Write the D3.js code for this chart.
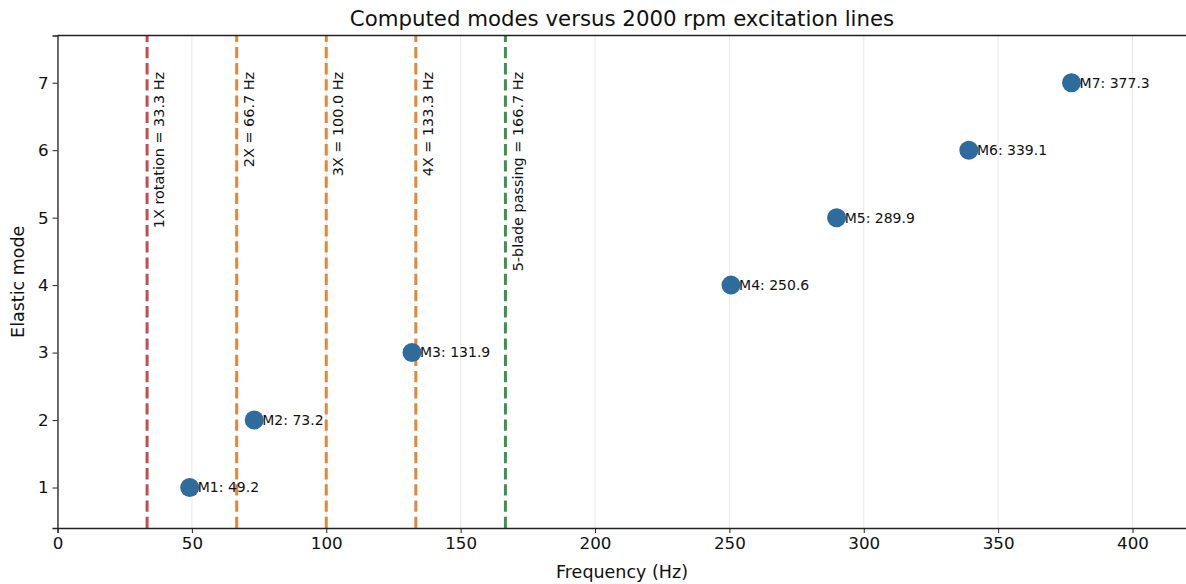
<!DOCTYPE html>
<html>
<head>
    <meta charset="utf-8">
    <title>Computed modes versus 2000 rpm excitation lines</title>
    <script src="https://cdnjs.cloudflare.com/ajax/libs/d3/7.8.5/d3.min.js"></script>
    <style>
        body { margin: 0; background: #fff; }
        svg { display: block; font-family: "DejaVu Sans", sans-serif; }
    </style>
</head>
<body>
    <svg id="chart"></svg>
    <script>
        // modal frequencies (Hz)
        const modeNames = ['M1', 'M2', 'M3', 'M4', 'M5', 'M6', 'M7'];
        const modeNumbers = [1, 2, 3, 4, 5, 6, 7];
        const modeFreqs = [49.2, 73.2, 131.9, 250.6, 289.9, 339.1, 377.3];

        // excitation lines at 2000 rpm
        const lineFreqs = [33.33, 66.67, 100.0, 133.33, 166.67];
        const lineLabels = ['1X rotation = 33.3 Hz', '2X = 66.7 Hz', '3X = 100.0 Hz', '4X = 133.3 Hz', '5-blade passing = 166.7 Hz'];
        const lineKinds = ['rotation', 'harmonic', 'harmonic', 'harmonic', 'blade'];

        const xTicks = [0, 50, 100, 150, 200, 250, 300, 350, 400];
        const yTicks = [1, 2, 3, 4, 5, 6, 7];

        const width = 1186, height = 584;
        const margin = { top: 35.5, right: 0, bottom: 56, left: 57.5 };

        const colors = { rotation: '#c64b4f', harmonic: '#e2873a', blade: '#3d9153' };

        const svg = d3.select('#chart')
            .attr('width', width)
            .attr('height', height);

        const x = d3.scaleLinear()
            .domain([0, 420])
            .range([margin.left, margin.left + 420 * 2.6875]);

        const y = d3.scaleLinear()
            .domain([0.4, 7.7])
            .range([height - margin.bottom, margin.top]);

        // vertical grid only
        svg.append('g')
            .selectAll('line')
            .data(xTicks)
            .join('line')
            .attr('x1', d => x(d)).attr('x2', d => x(d))
            .attr('y1', y(0.4)).attr('y2', y(7.7))
            .attr('stroke', '#e8e8e8')
            .attr('stroke-width', 1);

        // excitation lines, drawn bottom-up so the dash pattern starts at the axis
        svg.append('g')
            .selectAll('line')
            .data(lineFreqs)
            .join('line')
            .attr('x1', d => x(d)).attr('x2', d => x(d))
            .attr('y1', y(0.4)).attr('y2', y(7.7))
            .attr('stroke', (d, i) => colors[lineKinds[i]])
            .attr('stroke-width', 3)
            .attr('stroke-dasharray', '11.3,4.9');

        svg.append('g')
            .selectAll('text')
            .data(lineFreqs)
            .join('text')
            .attr('transform', d => `translate(${x(d + 2.5)},${y(7.16)}) rotate(-90)`)
            .attr('text-anchor', 'end')
            .attr('dominant-baseline', 'hanging')
            .attr('font-size', 14.4)
            .attr('fill', '#111')
            .text((d, i) => lineLabels[i]);

        // modes
        const modes = modeNames.map((name, i) => ({ name, n: modeNumbers[i], f: modeFreqs[i] }));

        svg.append('g')
            .selectAll('circle')
            .data(modes)
            .join('circle')
            .attr('cx', d => x(d.f))
            .attr('cy', d => y(d.n))
            .attr('r', 9.5)
            .attr('fill', '#2d6c9c');

        svg.append('g')
            .selectAll('text')
            .data(modes)
            .join('text')
            .attr('x', d => x(d.f + 3))
            .attr('y', d => y(d.n))
            .attr('dy', '0.35em')
            .attr('font-size', 14)
            .attr('fill', '#111')
            .text(d => `${d.name}: ${d.f.toFixed(1)}`);

        // axes
        const xAxis = svg.append('g')
            .attr('transform', `translate(0,${y(0.4)})`)
            .call(d3.axisBottom(x).tickValues(xTicks).tickSize(5).tickPadding(4));
        const yAxis = svg.append('g')
            .attr('transform', `translate(${x(0)},0)`)
            .call(d3.axisLeft(y).tickValues(yTicks).tickSize(5).tickPadding(4));

        [xAxis, yAxis].forEach(a => {
            a.select('.domain').attr('stroke', '#222').attr('stroke-width', 1.3);
            a.selectAll('.tick line').attr('stroke', '#222').attr('stroke-width', 1);
            a.selectAll('.tick text')
                .attr('font-size', 16.7)
                .attr('font-family', '"DejaVu Sans", sans-serif')
                .attr('fill', '#111');
        });

        // top spine
        svg.append('line')
            .attr('x1', x(0)).attr('x2', x(420))
            .attr('y1', y(7.7)).attr('y2', y(7.7))
            .attr('stroke', '#222')
            .attr('stroke-width', 1.3);

        // titles
        svg.append('text')
            .attr('x', 622)
            .attr('y', 25.5)
            .attr('text-anchor', 'middle')
            .attr('font-size', 21.3)
            .attr('fill', '#111')
            .text('Computed modes versus 2000 rpm excitation lines');

        svg.append('text')
            .attr('x', 622)
            .attr('y', 578)
            .attr('text-anchor', 'middle')
            .attr('font-size', 17.5)
            .attr('fill', '#111')
            .text('Frequency (Hz)');

        svg.append('text')
            .attr('transform', `translate(24,${y(4.05)}) rotate(-90)`)
            .attr('text-anchor', 'middle')
            .attr('font-size', 17.5)
            .attr('fill', '#111')
            .text('Elastic mode');
    </script>
</body>
</html>
